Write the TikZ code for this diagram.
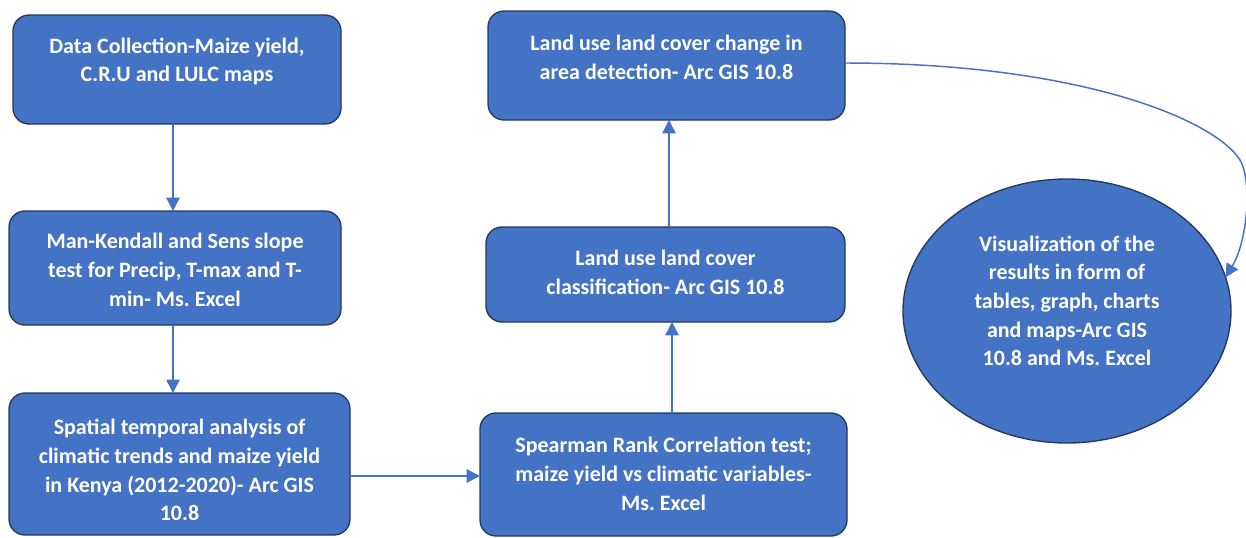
\documentclass[tikz,border=0pt]{standalone}
\usepackage{fontspec}
\setmainfont{Carlito}
\usetikzlibrary{arrows.meta,shapes.geometric}
\definecolor{boxfill}{HTML}{4472C4}
\definecolor{boxline}{HTML}{24395C}
\definecolor{arrowcol}{HTML}{4472C4}
\frenchspacing
\begin{document}
\begin{tikzpicture}[x=0.75pt,y=-0.75pt,
 box/.style={draw=boxline, line width=1pt, fill=boxfill, rounded corners=12pt, inner sep=0pt, outer sep=0pt},
 oval/.style={ellipse, draw=boxline, line width=1pt, fill=boxfill, inner sep=0pt, outer sep=0pt},
 lbl/.style={text=white, font=\bfseries\fontsize{16.5}{21.5}\selectfont, align=center, inner sep=0pt},
 arr/.style={draw=arrowcol, line width=1.1pt, -{Triangle[length=10pt,width=10pt]}}]
\useasboundingbox (0,0) rectangle (1246,537);
% boxes
\node[box, minimum width=246pt, minimum height=81.75pt] (b1) at (177,69.5) {};
\node[lbl] (t1) at (177,61.5) {Data Collection-Maize yield,\\C.R.U and LULC maps};
\node[box, minimum width=249pt, minimum height=85.5pt] (b2) at (175,268) {};
\node[lbl] (t2) at (175,270) {Man-Kendall and Sens slope\\test for Precip, T-max and T-\\min- Ms. Excel};
\node[box, minimum width=255.75pt, minimum height=106.5pt] (b3) at (179.5,464) {};
\node[lbl] (t3) at (179.5,470) {Spatial temporal analysis of\\climatic trends and maize yield\\in Kenya (2012-2020)- Arc GIS\\10.8};
\node[box, minimum width=275.25pt, minimum height=92.25pt] (b4) at (663.5,474.5) {};
\node[lbl] (t4) at (663.5,474) {Spearman Rank Correlation test;\\maize yield vs climatic variables-\\Ms. Excel};
\node[box, minimum width=269.25pt, minimum height=71.25pt] (b5) at (665.5,274.5) {};
\node[lbl] (t5) at (665.5,272.5) {Land use land cover\\classification- Arc GIS 10.8};
\node[box, minimum width=267.75pt, minimum height=81.75pt] (b6) at (666.5,65.5) {};
\node[lbl] (t6) at (666.5,57.5) {Land use land cover change in\\area detection- Arc GIS 10.8};
\node[oval, minimum width=246pt, minimum height=198pt] (ell) at (1067,311) {};
\node[lbl] (t7) at (1067,301) {Visualization of the\\results in form of\\tables, graph, charts\\and maps-Arc GIS\\10.8 and Ms. Excel};
% helper coordinates
\coordinate (xa) at (173,0);
\coordinate (ya) at (0,476);
\coordinate (xb) at (672,0);
\coordinate (xc) at (669,0);
\coordinate (yc) at (0,63);
% connectors
\draw[arr] (b1.south -| xa) -- (b2.north -| xa);
\draw[arr] (b2.south -| xa) -- (b3.north -| xa);
\draw[arr] (b3.east |- ya) -- (b4.west |- ya);
\draw[arr] (b4.north -| xb) -- (b5.south -| xb);
\draw[arr] (b5.north -| xc) -- (b6.south -| xc);
\draw[arr] (b6.east |- yc) .. controls (1080,63) and (1215,120) .. (1240,160)
  .. controls (1252,180) and (1248,240) .. (ell.12);
\end{tikzpicture}
\end{document}
